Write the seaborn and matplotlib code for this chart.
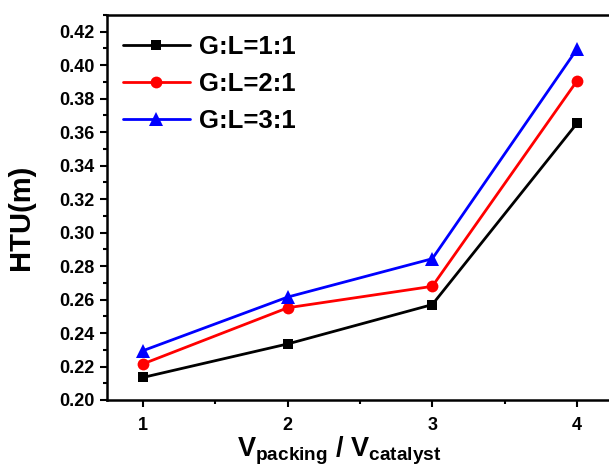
import pandas as pd
import matplotlib
matplotlib.use("Agg")
import matplotlib.pyplot as plt
import seaborn as sns
from matplotlib.ticker import MultipleLocator, FormatStrFormatter

# Data
ratio = [1, 2, 3, 4]
htu_gl1 = [0.2135, 0.2335, 0.2570, 0.3652]
htu_gl2 = [0.2216, 0.2551, 0.2679, 0.3905]
htu_gl3 = [0.2295, 0.2615, 0.2844, 0.4095]
series_names = ["G:L=1:1", "G:L=2:1", "G:L=3:1"]

sns.set_style("ticks")
plt.rcParams["font.family"] = ["Liberation Sans", "DejaVu Sans"]
plt.rcParams["font.weight"] = "bold"
plt.rcParams["text.color"] = "black"
plt.rcParams["axes.labelcolor"] = "black"
plt.rcParams["axes.edgecolor"] = "black"
plt.rcParams["xtick.color"] = "black"
plt.rcParams["ytick.color"] = "black"
plt.rcParams["mathtext.fontset"] = "custom"
plt.rcParams["mathtext.rm"] = "Liberation Sans:bold"
plt.rcParams["mathtext.bf"] = "Liberation Sans:bold"
plt.rcParams["mathtext.it"] = "Liberation Sans:bold"

fig = plt.figure(figsize=(6.09, 4.75), dpi=100)
ax = fig.add_axes([107 / 609, 75 / 475, 506 / 609, 385 / 475])

colors = ["#000000", "#ff0000", "#0000ff"]
markers = ["s", "o", "^"]
msizes = [7.5, 8.5, 9.5]

for name, vals, c, m, ms in zip(series_names, [htu_gl1, htu_gl2, htu_gl3], colors, markers, msizes):
    sns.lineplot(x=ratio, y=vals, color=c, marker=m, markersize=ms, markeredgewidth=0,
                 linewidth=2.0, label=name, ax=ax)

ax.set_xlim(0.75, 4.25)
ax.set_ylim(0.20, 0.43)
ax.xaxis.set_major_locator(MultipleLocator(1))
ax.xaxis.set_minor_locator(MultipleLocator(0.5))
ax.yaxis.set_major_locator(MultipleLocator(0.02))
ax.yaxis.set_minor_locator(MultipleLocator(0.01))
ax.yaxis.set_major_formatter(FormatStrFormatter("%.2f"))

for side in ["left", "bottom", "top", "right"]:
    ax.spines[side].set_visible(True)
    ax.spines[side].set_linewidth(1.8)
ax.tick_params(which="major", direction="out", length=5, width=1.5, labelsize=13, pad=4)
ax.tick_params(which="minor", direction="out", length=3, width=1.5)
ax.tick_params(axis="x", which="major", pad=7)
for lab in ax.get_xticklabels() + ax.get_yticklabels():
    lab.set_fontweight("bold")

ax.set_ylabel("HTU(m)", fontsize=21, fontweight="bold")
ax.yaxis.set_label_coords(-0.142, 0.475)
ax.set_xlabel(r"V$_{\mathrm{packing}}$ / V$_{\mathrm{catalyst}}$", fontsize=19.5,
              fontweight="bold")
ax.xaxis.set_label_coords(0.458, -0.09)

ax.legend(frameon=False, loc="upper left", bbox_to_anchor=(0.011, 0.975),
          prop={"size": 18.5, "weight": "bold"}, handlelength=2.6,
          handletextpad=0.35, labelspacing=0.51, borderaxespad=0)

fig.savefig("out.png", dpi=100)
